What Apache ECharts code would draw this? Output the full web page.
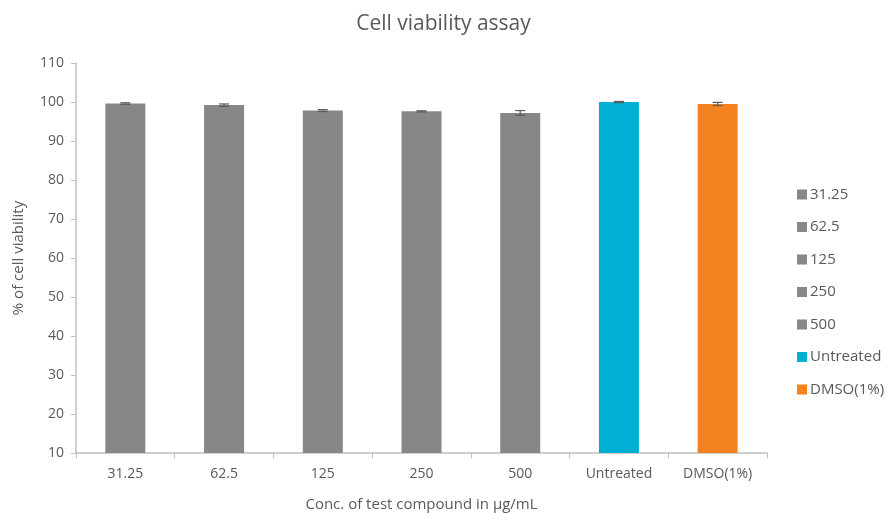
<!DOCTYPE html>
<html>
<head>
<meta charset="utf-8">
<script src="https://cdn.jsdelivr.net/npm/echarts@6/dist/echarts.min.js"></script>
<style>html,body{margin:0;padding:0;background:#fff}#c{width:887px;height:513px}</style>
</head>
<body>
<div id="c"></div>
<script>
var categories = ['31.25', '62.5', '125', '250', '500', 'Untreated', 'DMSO(1%)'];
var viability = [99.6, 99.2, 97.8, 97.6, 97.2, 100.0, 99.5];
var errors = [0.2, 0.3, 0.25, 0.15, 0.6, 0.15, 0.4];
var barColors = ['#878787', '#878787', '#878787', '#878787', '#878787', '#00AFD4', '#F58220'];
var yTicks = [10, 20, 30, 40, 50, 60, 70, 80, 90, 100, 110];

var FONT = 'Open Sans';
var TXT = '#595959';

var series = categories.map(function (name, i) {
  var d = categories.map(function (_, j) { return j === i ? viability[i] : '-'; });
  return {
    name: name, type: 'bar', stack: 'all', barWidth: 40,
    itemStyle: { color: barColors[i] },
    data: d
  };
});

series.push({
  type: 'custom',
  name: 'err',
  z: 10,
  data: categories.map(function (_, i) { return [i, viability[i], errors[i]]; }),
  encode: { x: 0, y: 1 },
  renderItem: function (params, api) {
    var i = api.value(0), v = api.value(1), e = api.value(2);
    var top = api.coord([i, v + e]);
    var bot = api.coord([i, v - e]);
    var hw = 5;
    var st = { stroke: '#5a5a5a', lineWidth: 1.2 };
    return {
      type: 'group',
      children: [
        { type: 'line', shape: { x1: top[0], y1: top[1], x2: bot[0], y2: bot[1] }, style: st },
        { type: 'line', shape: { x1: top[0] - hw, y1: top[1], x2: top[0] + hw, y2: top[1] }, style: st },
        { type: 'line', shape: { x1: bot[0] - hw, y1: bot[1], x2: bot[0] + hw, y2: bot[1] }, style: st }
      ]
    };
  }
});

var chart = echarts.init(document.getElementById('c'));
chart.setOption({
  animation: false,
  backgroundColor: '#fff',
  title: {
    text: 'Cell viability assay', left: 'center', top: 9,
    textStyle: { fontFamily: FONT, fontSize: 21, fontWeight: 'normal', color: TXT }
  },
  legend: {
    orient: 'vertical', left: 792, top: 182,
    data: categories,
    itemWidth: 10, itemHeight: 10, itemGap: 17.5,
    icon: 'rect',
    textStyle: { fontFamily: FONT, fontSize: 15, color: TXT, padding: [0, 0, 0, -2] }
  },
  grid: { left: 76, right: 120, top: 63, bottom: 60, containLabel: false, outerBoundsMode: 'none' },
  xAxis: {
    type: 'category', data: categories,
    name: 'Conc. of test compound in µg/mL', nameLocation: 'middle', nameGap: 44,
    nameTextStyle: { fontFamily: FONT, fontSize: 15, color: TXT },
    axisLine: { lineStyle: { color: '#bfbfbf', width: 1.5 } },
    axisTick: { show: true, length: 5, lineStyle: { color: '#bfbfbf' } },
    axisLabel: { fontFamily: FONT, fontSize: 14, color: TXT, margin: 14 }
  },
  yAxis: {
    type: 'value', min: 10, max: 110, interval: 10,
    name: '% of cell viability', nameLocation: 'middle', nameGap: 50,
    nameTextStyle: { fontFamily: FONT, fontSize: 15, color: TXT },
    axisLine: { show: true, lineStyle: { color: '#bfbfbf', width: 1.5 } },
    axisTick: { show: true, length: 5, lineStyle: { color: '#bfbfbf' } },
    splitLine: { show: false },
    axisLabel: {
      fontFamily: FONT, fontSize: 14, color: TXT, margin: 12,
      formatter: function (v) { return yTicks.indexOf(v) >= 0 ? String(v) : ''; }
    }
  },
  series: series
});
</script>
</body>
</html>
